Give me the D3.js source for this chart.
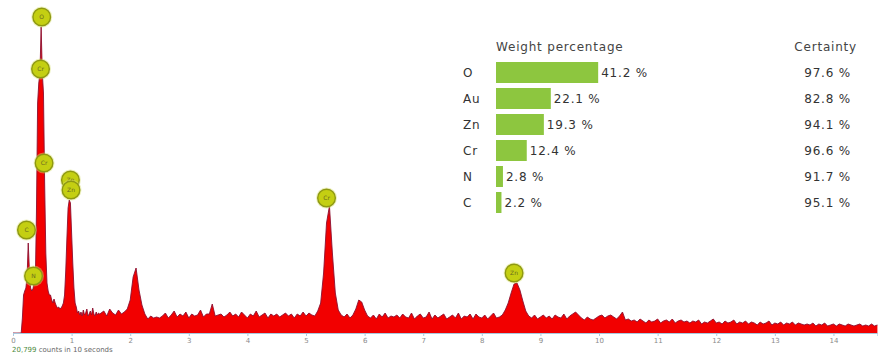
<!DOCTYPE html>
<html>
<head>
<meta charset="utf-8">
<script src="https://cdn.jsdelivr.net/npm/d3@7"></script>
<style>
html,body{margin:0;padding:0;background:#fff;}
svg{display:block;}
</style>
</head>
<body>
<svg id="chart" width="878" height="356"></svg>
<script>
// ---- Spectrum data (counts) ----
// Low-energy part: 0.00 .. 1.50 keV, step 0.02 keV
const lowStart = 0.0, lowStep = 0.02;
const countsLow = [
  0, 0, 0, 0, 0, 0, 0, 0,           // 0.00-0.14
  150, 380, 420, 450, 560, 900, 620, 450, // 0.16-0.30
  420, 440, 500, 480, 1200, 2300, 2500, 2600, // 0.32-0.46
  3060, 2600, 2400, 1500, 800, 500, 420, 380, // 0.48-0.62
  380, 330, 300, 340, 300, 270, 250, 260, // 0.64-0.78
  240, 250, 270, 300, 380, 620, 950, 1250, // 0.80-0.94
  1330, 1300, 1000, 700, 450, 300, 260, 200, // 0.96-1.10
  220, 180, 210, 170, 230, 180, 200, 240, // 1.12-1.26
  170, 190, 220, 180, 250, 190, 170, 210, // 1.28-1.42
  180, 200, 190                       // 1.44-1.50
];
// Upper part: 1.55 .. 14.75 keV, step 0.05 keV
const highStart = 1.55, highStep = 0.05;
const countsHigh = [
  220, 170, 240, 200, 180, 230, 190, 210, 240, 330, 560, 650, 430, 280, 190, 140, 170, 150, 160, 150, // 1.55-2.50
  170, 200, 150, 180, 220, 160, 190, 170, 210, 150, 190, 170, 180, 230, 160, 190, 190, 290, 170, 180, // 2.55-3.50
  190, 160, 180, 210, 170, 190, 160, 210, 180, 150, 190, 170, 220, 160, 180, 200, 150, 190, 170, 190, // 3.55-4.50
  160, 180, 200, 170, 190, 150, 190, 170, 210, 170, 200, 180, 170, 220, 300, 600, 1100, 1270, 800, 400, // 4.55-5.50
  230, 180, 160, 190, 150, 180, 240, 330, 310, 230, 170, 150, 180, 140, 190, 160, 200, 150, 170, 160, // 5.55-6.50
  180, 150, 190, 160, 150, 200, 140, 170, 190, 150, 160, 210, 140, 180, 150, 170, 190, 140, 160, 180, // 6.55-7.50
  150, 200, 140, 170, 160, 190, 140, 190, 160, 150, 180, 140, 170, 200, 150, 160, 180, 230, 300, 400, // 7.55-8.50
  490, 500, 430, 320, 220, 170, 150, 180, 140, 160, 180, 150, 170, 140, 180, 160, 150, 190, 140, 170, // 8.55-9.50
  190, 210, 180, 150, 130, 160, 140, 130, 150, 170, 180, 150, 170, 180, 160, 140, 170, 210, 130, 140, // 9.55-10.50
  120, 130, 110, 140, 120, 100, 130, 110, 120, 140, 100, 120, 130, 110, 140, 100, 120, 130, 110, 120, // 10.55-11.50
  100, 120, 110, 130, 90, 110, 100, 120, 140, 100, 110, 90, 120, 100, 110, 130, 90, 110, 100, 120,   // 11.55-12.50
  90, 110, 100, 80, 110, 90, 100, 120, 80, 100, 90, 110, 80, 100, 90, 110, 80, 100, 90, 80,           // 12.55-13.50
  90, 80, 100, 70, 90, 80, 100, 70, 80, 90, 70, 90, 80, 70, 90, 80, 70, 80, 90, 70,                   // 13.55-14.50
  80, 70, 90, 70, 80                                                                                  // 14.55-14.75
];

// Peak markers: label, energy (keV), height (counts) of the circle centre
const markerLabels = ["O", "Cr", "Cr", "Zn", "Zn", "C", "N", "Cr", "Zn"];
const markerEnergy = [0.49, 0.47, 0.53, 0.98, 0.99, 0.23, 0.35, 5.35, 8.55];
const markerCounts = [3160, 2640, 1700, 1530, 1430, 1030, 570, 1350, 600];

// Axis ticks
const tickValues = [0,1,2,3,4,5,6,7,8,9,10,11,12,13,14];
const countsText = "20,799";
const countsRest = " counts in 10 seconds";

// Quantification table
const elements = ["O", "Au", "Zn", "Cr", "N", "C"];
const weightPct = [41.2, 22.1, 19.3, 12.4, 2.8, 2.2];
const certainty = [97.6, 82.8, 94.1, 96.6, 91.7, 95.1];

// ---- Drawing ----
const svg = d3.select("#chart");
const x = d3.scaleLinear().domain([0, 14.75]).range([13, 877.4]);
const y = d3.scaleLinear().domain([0, 3200]).range([333, 13]);

const spectrum = [];
countsLow.forEach((c, i) => spectrum.push({e: lowStart + i * lowStep, c}));
countsHigh.forEach((c, i) => spectrum.push({e: highStart + i * highStep, c}));

const area = d3.area().x(d => x(d.e)).y0(y(0)).y1(d => y(d.c));
const line = d3.line().x(d => x(d.e)).y(d => y(d.c));

svg.append("path").datum(spectrum).attr("d", area).attr("fill", "#f20000");
svg.append("path").datum(spectrum).attr("d", line)
  .attr("fill", "none").attr("stroke", "#8c1030").attr("stroke-width", 0.9);

// axis
const axis = d3.axisBottom(x).tickValues(tickValues).tickSize(3).tickPadding(2).tickFormat(d3.format("d"));
const gx = svg.append("g").attr("transform", `translate(0,${y(0)})`).call(axis);
gx.select(".domain").attr("stroke", "#a9c8de");
gx.selectAll(".tick line").attr("stroke", "#a9c8de");
gx.selectAll(".tick text").attr("fill", "#8a8a8a").style("font-family", "DejaVu Sans, sans-serif").style("font-size", "7px");

svg.append("text").attr("x", 12).attr("y", 352)
  .style("font-family", "DejaVu Sans, sans-serif").style("font-size", "7px")
  .call(t => {
    t.append("tspan").attr("fill", "#4c8a3c").text(countsText);
    t.append("tspan").attr("fill", "#666").text(countsRest);
  });

// markers
const mk = svg.append("g").selectAll("g").data(markerLabels.map((l, i) => ({l, e: markerEnergy[i], c: markerCounts[i]})))
  .join("g").attr("transform", d => `translate(${x(d.e)},${y(d.c)})`);
mk.append("circle").attr("r", 10.5).attr("fill", "#d8e070").attr("opacity", 0.45);
mk.append("circle").attr("r", 8.8).attr("fill", "#c4cf12").attr("stroke", "#8e9812").attr("stroke-width", 1.4);
mk.append("text").text(d => d.l).attr("text-anchor", "middle").attr("dy", "0.35em")
  .attr("fill", "#6a6a20").style("font-family", "DejaVu Sans, sans-serif").style("font-size", "6px");

// table
const font = "DejaVu Sans, sans-serif";
const fs = "12px", ls = "0.8px";
const rowY = d3.scalePoint().domain(elements).range([72.5, 202.5]);
const w = d3.scaleLinear().domain([0, 100]).range([0, 248]);
const tbl = svg.append("g");
tbl.append("text").attr("x", 496).attr("y", 47).attr("dy", "0.35em").text("Weight percentage")
  .attr("fill", "#444").style("font-family", font).style("font-size", fs).style("letter-spacing", ls);
tbl.append("text").attr("x", 857).attr("y", 47).attr("dy", "0.35em").attr("text-anchor", "end").text("Certainty")
  .attr("fill", "#444").style("font-family", font).style("font-size", fs).style("letter-spacing", ls);

const rows = tbl.selectAll("g.row").data(elements.map((el, i) => ({el, w: weightPct[i], c: certainty[i]})))
  .join("g").attr("class", "row").attr("transform", d => `translate(0,${rowY(d.el)})`);
rows.append("text").attr("x", 463).attr("dy", "0.35em").text(d => d.el)
  .attr("fill", "#333").style("font-family", font).style("font-size", fs).style("letter-spacing", ls);
rows.append("rect").attr("x", 496).attr("y", -10.5).attr("height", 21).attr("width", d => w(d.w))
  .attr("fill", "#8dc63f");
rows.append("text").attr("x", d => 496 + w(d.w) + 3).attr("dy", "0.35em").text(d => d.w.toFixed(1) + " %")
  .attr("fill", "#333").style("font-family", font).style("font-size", fs).style("letter-spacing", ls);
rows.append("text").attr("x", 851).attr("dy", "0.35em").attr("text-anchor", "end").text(d => d.c.toFixed(1) + " %")
  .attr("fill", "#333").style("font-family", font).style("font-size", fs).style("letter-spacing", ls);
</script>
</body>
</html>
